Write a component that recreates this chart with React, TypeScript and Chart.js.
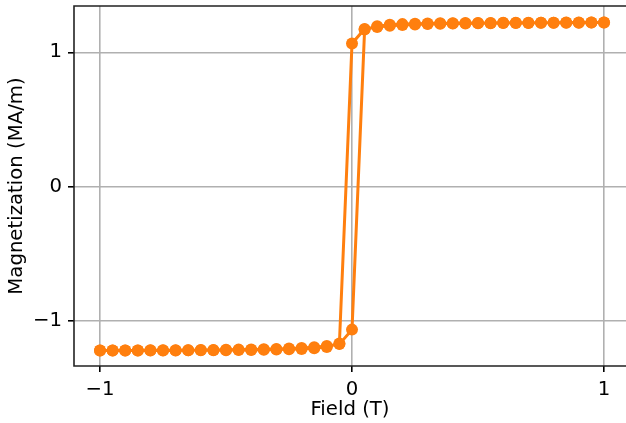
import React, { useEffect, useRef } from "react";
import { Chart, registerables } from "chart.js";

Chart.register(...registerables);

const fieldUp = [
  -1, -0.95, -0.9, -0.85, -0.8, -0.75, -0.7, -0.65, -0.6, -0.55, -0.5, -0.45, -0.4, -0.35, -0.3, -0.25, -0.2, -0.15, -0.1, -0.05,
  0, 0.05, 0.1, 0.15, 0.2, 0.25, 0.3, 0.35, 0.4, 0.45, 0.5, 0.55, 0.6, 0.65, 0.7, 0.75, 0.8, 0.85, 0.9, 0.95, 1,
];
const magUp = [
  -1.222, -1.222, -1.221, -1.221, -1.22, -1.22, -1.219, -1.219, -1.218, -1.217, -1.216, -1.215, -1.214, -1.212, -1.21, -1.207,
  -1.203, -1.197, -1.188, -1.174, -1.066, 1.169, 1.195, 1.205, 1.21, 1.213, 1.215, 1.216, 1.217, 1.218, 1.219, 1.219, 1.22,
  1.22, 1.221, 1.221, 1.221, 1.222, 1.222, 1.222, 1.222,
];
const fieldDown = [
  1, 0.95, 0.9, 0.85, 0.8, 0.75, 0.7, 0.65, 0.6, 0.55, 0.5, 0.45, 0.4, 0.35, 0.3, 0.25, 0.2, 0.15, 0.1, 0.05,
  0, -0.05, -0.1, -0.15, -0.2, -0.25, -0.3, -0.35, -0.4, -0.45, -0.5, -0.55, -0.6, -0.65, -0.7, -0.75, -0.8, -0.85, -0.9, -0.95, -1,
];
const magDown = [
  1.222, 1.222, 1.221, 1.221, 1.22, 1.22, 1.219, 1.219, 1.218, 1.217, 1.216, 1.215, 1.214, 1.212, 1.21, 1.207,
  1.203, 1.197, 1.188, 1.174, 1.066, -1.169, -1.195, -1.205, -1.21, -1.213, -1.215, -1.216, -1.217, -1.218, -1.219, -1.219, -1.22,
  -1.22, -1.221, -1.221, -1.221, -1.222, -1.222, -1.222, -1.222,
];
const xTicks = [-1, 0, 1];
const yTicks = [-1, 0, 1];
const xLabel = "Field (T)";
const yLabel = "Magnetization (MA/m)";

const fmt = (v: number) => (v < 0 ? "\u2212" + String(Math.abs(v)) : String(v));

const zeroPad = (s: any) => {
  s.paddingLeft = 0;
  s.paddingRight = 0;
  s.paddingTop = 0;
  s.paddingBottom = 0;
};

const gridColor = (list: number[]) => (c: any) =>
  c.tick && list.includes(c.tick.value) ? "#b0b0b0" : "rgba(0,0,0,0)";
const tickColor = (list: number[]) => (c: any) =>
  c.tick && list.includes(c.tick.value) ? "#000" : "rgba(0,0,0,0)";

export default function App() {
  const ref = useRef<HTMLCanvasElement | null>(null);
  useEffect(() => {
    document.body.style.margin = "0";
    document.body.style.overflow = "hidden";
    const canvas = ref.current;
    if (!canvas) return;
    const points = [
      ...fieldUp.map((x, i) => ({ x, y: magUp[i] })),
      ...fieldDown.map((x, i) => ({ x, y: magDown[i] })),
    ];
    const spines = {
      id: "spines",
      afterDraw(chart: any) {
        const { ctx, chartArea } = chart;
        const { left, top, bottom } = chartArea;
        const w = chart.width;
        ctx.save();
        ctx.strokeStyle = "#222";
        ctx.lineWidth = 1.6;
        ctx.beginPath();
        ctx.moveTo(w + 2, top);
        ctx.lineTo(left, top);
        ctx.lineTo(left, bottom);
        ctx.lineTo(w + 2, bottom);
        ctx.stroke();
        ctx.restore();
      },
    };
    const font = { family: "'DejaVu Sans'", size: 19.7 };
    const chart = new Chart(canvas, {
      type: "scatter",
      data: {
        datasets: [
          {
            data: points,
            showLine: true,
            borderColor: "#ff7f0e",
            borderWidth: 3,
            backgroundColor: "#ff7f0e",
            pointRadius: 6,
            pointBorderWidth: 0,
            pointBackgroundColor: "#ff7f0e",
          },
        ],
      },
      options: {
        responsive: false,
        animation: false,
        layout: { autoPadding: false, padding: { top: 6, right: 0, left: 0, bottom: 0 } },
        plugins: { legend: { display: false }, tooltip: { enabled: false } },
        scales: {
          x: {
            type: "linear",
            min: -1.1032,
            max: 1.0873,
            afterBuildTicks: (s: any) => {
              s.ticks = xTicks.map((v) => ({ value: v }));
            },
            afterFit: (s: any) => {
              s.height = 57;
              zeroPad(s);
            },
            ticks: { color: "#000", font, padding: 6, callback: (v: any) => fmt(Number(v)), maxRotation: 0 },
            grid: {
              color: gridColor(xTicks),
              lineWidth: 1.6,
              tickLength: 6,
              tickColor: tickColor(xTicks),
              tickWidth: 1.6,
            },
            border: { display: false },
            title: { display: true, text: xLabel, color: "#000", font, padding: { top: 0, bottom: 1 } },
          },
          y: {
            type: "linear",
            min: -1.337,
            max: 1.345,
            afterBuildTicks: (s: any) => {
              s.ticks = yTicks.map((v) => ({ value: v }));
            },
            afterFit: (s: any) => {
              s.width = 74;
              zeroPad(s);
            },
            ticks: { color: "#000", font, padding: 6, callback: (v: any) => fmt(Number(v)) },
            grid: {
              color: gridColor(yTicks),
              lineWidth: 1.6,
              tickLength: 6,
              tickColor: tickColor(yTicks),
              tickWidth: 1.6,
            },
            border: { display: false },
            title: { display: true, text: yLabel, color: "#000", font, padding: { top: 5, bottom: 0 } },
          },
        },
      },
      plugins: [spines],
    } as any);
    return () => chart.destroy();
  }, []);
  return (
    <div style={{ width: 626, height: 423 }}>
      <canvas ref={ref} width={626} height={423} style={{ display: "block" }} />
    </div>
  );
}
